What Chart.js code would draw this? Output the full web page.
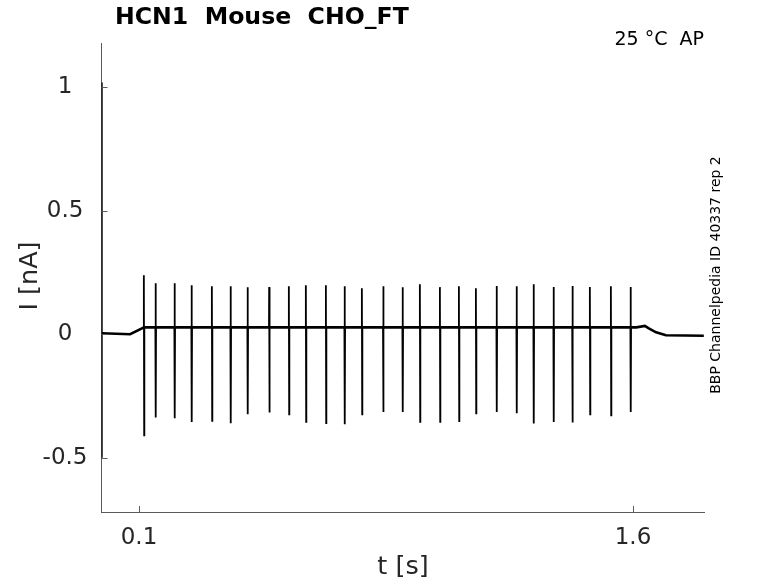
<!DOCTYPE html>
<html>
<head>
<meta charset="utf-8">
<script src="https://cdn.jsdelivr.net/npm/chart.js@4.4.1/dist/chart.umd.min.js"></script>
<style>
  html, body { margin: 0; padding: 0; background: #fff; }
  #wrap { width: 778px; height: 583px; }
</style>
</head>
<body>
<div id="wrap"><canvas id="myChart" width="778" height="583"></canvas></div>
<script>
// spike (stimulus artefact) times in s, peak and trough current in nA
const spikeTimes = [0.1152, 0.1507, 0.2084, 0.2600, 0.3217, 0.3785, 0.4301, 0.4957, 0.5555,
  0.6071, 0.6679, 0.7247, 0.7772, 0.8419, 0.9008, 0.9533, 1.0141, 1.0718, 1.1234, 1.1863,
  1.2470, 1.2986, 1.3593, 1.4164, 1.4695, 1.5333, 1.5931];
const spikeMax = [0.239, 0.207, 0.207, 0.199, 0.195, 0.195, 0.191, 0.191, 0.195,
  0.199, 0.199, 0.195, 0.186, 0.195, 0.191, 0.203, 0.191, 0.195, 0.186, 0.196,
  0.195, 0.203, 0.192, 0.196, 0.192, 0.195, 0.192];
const spikeMin = [-0.409, -0.337, -0.340, -0.355, -0.351, -0.360, -0.324, -0.317, -0.324,
  -0.355, -0.360, -0.365, -0.324, -0.315, -0.315, -0.355, -0.355, -0.352, -0.320, -0.315,
  -0.320, -0.361, -0.355, -0.357, -0.324, -0.328, -0.315];
const trainLevel = 0.028;

// slow baseline
const startT = [-0.0137, -0.0132, -0.0127, 0.073, 0.112];
const startI = [1.02, -0.5, 0.004, 0.0, 0.026];
const endT = [1.61, 1.636, 1.648, 1.67, 1.70, 1.815];
const endI = [0.028, 0.034, 0.024, 0.008, -0.004, -0.006];

const xTicks = [0.1, 1.6];
const yTicks = [-0.5, 0, 0.5, 1];

const trace = [];
startT.forEach((t, i) => trace.push({ x: t, y: startI[i] }));
spikeTimes.forEach((t, i) => {
  trace.push({ x: t - 0.001, y: trainLevel });
  trace.push({ x: t - 0.0005, y: spikeMax[i] });
  trace.push({ x: t + 0.0005, y: spikeMin[i] });
  trace.push({ x: t + 0.001, y: trainLevel });
});
endT.forEach((t, i) => trace.push({ x: t, y: endI[i] }));

const FONT = 'DejaVu Sans';
const AXIS = '#5a5a5a';

const inwardTicks = {
  id: 'inwardTicks',
  afterDatasetsDraw(chart) {
    const { ctx, chartArea } = chart;
    const xs = chart.scales.x, ys = chart.scales.y;
    ctx.save();
    ctx.strokeStyle = AXIS;
    ctx.lineWidth = 1;
    ctx.beginPath();
    xs.ticks.forEach(tk => {
      const px = Math.round(xs.getPixelForValue(tk.value)) + 0.5;
      ctx.moveTo(px, chartArea.bottom);
      ctx.lineTo(px, chartArea.bottom - 6);
    });
    ys.ticks.forEach(tk => {
      const py = Math.round(ys.getPixelForValue(tk.value)) + 0.5;
      ctx.moveTo(chartArea.left, py);
      ctx.lineTo(chartArea.left + 6, py);
    });
    ctx.stroke();
    ctx.restore();
  }
};

const labels = {
  id: 'labels',
  afterDraw(chart) {
    const ctx = chart.ctx;
    ctx.save();
    ctx.fillStyle = '#000';
    ctx.textBaseline = 'middle';
    ctx.font = 'bold 23.6px "' + FONT + '"';
    ctx.textAlign = 'left';
    ctx.fillText('HCN1  Mouse  CHO_FT', 115, 18);

    ctx.font = '19px "' + FONT + '"';
    ctx.textAlign = 'right';
    ctx.fillText('25 °C  AP', 704, 40);

    ctx.fillStyle = '#262626';
    ctx.font = '25.5px "' + FONT + '"';
    ctx.textAlign = 'center';
    ctx.fillText('t [s]', 403, 567);

    ctx.save();
    ctx.translate(30, 276);
    ctx.rotate(-Math.PI / 2);
    ctx.fillText('I [nA]', 0, 0);
    ctx.restore();

    ctx.save();
    ctx.fillStyle = '#000';
    ctx.font = '14px "' + FONT + '"';
    ctx.translate(716, 275);
    ctx.rotate(-Math.PI / 2);
    ctx.fillText('BBP Channelpedia ID 40337 rep 2', 0, 0);
    ctx.restore();
    ctx.restore();
  }
};

new Chart(document.getElementById('myChart'), {
  type: 'line',
  data: {
    datasets: [{
      data: trace,
      borderColor: '#000',
      borderWidth: 2,
      pointRadius: 0,
      tension: 0,
      segment: {
        borderWidth: c => Math.abs(c.p1.parsed.y - c.p0.parsed.y) > 0.1 ? 1.8 : 2.6
      }
    }]
  },
  options: {
    responsive: false,
    animation: false,
    events: [],
    layout: { padding: { top: 43, right: 74, left: 0, bottom: 0 } },
    plugins: { legend: { display: false }, tooltip: { enabled: false } },
    scales: {
      x: {
        type: 'linear',
        min: -0.0139,
        max: 1.8156,
        afterFit: s => { s.height = 71; },
        afterBuildTicks: s => { s.ticks = xTicks.map(v => ({ value: v })); },
        grid: { display: false, drawTicks: false },
        border: { display: true, color: AXIS, width: 1 },
        ticks: {
          padding: 12,
          color: '#262626',
          font: { family: FONT, size: 23 },
          callback: v => String(v),
          maxRotation: 0
        }
      },
      y: {
        type: 'linear',
        min: -0.72,
        max: 1.18,
        afterFit: s => { s.width = 101.5; },
        afterBuildTicks: s => { s.ticks = yTicks.map(v => ({ value: v })); },
        grid: { display: false, drawTicks: false },
        border: { display: true, color: AXIS, width: 1 },
        ticks: {
          padding: 14,
          crossAlign: 'center',
          color: '#262626',
          font: { family: FONT, size: 23 },
          callback: v => String(v)
        }
      }
    }
  },
  plugins: [inwardTicks, labels]
});
</script>
</body>
</html>
